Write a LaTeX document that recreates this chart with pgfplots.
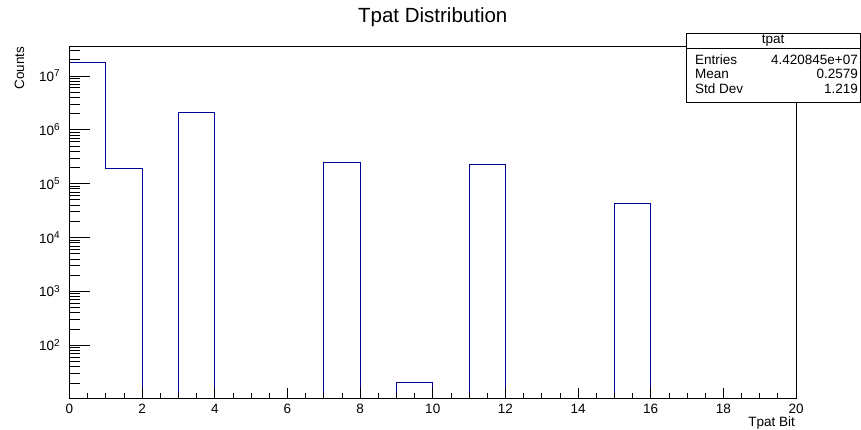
\documentclass[border=0pt]{standalone}
\usepackage{pgfplots}
\pgfplotsset{compat=1.18}
\usepackage{fontspec}
\setmainfont{Liberation Sans}

\definecolor{histblue}{RGB}{0,0,153}
\newcommand{\ep}[1]{10\raisebox{4.5pt}{\fontsize{10}{10}\selectfont #1}}

\begin{document}
\begin{tikzpicture}[x=1pt,y=1pt]
\begin{axis}[
    at={(69.5pt,32pt)}, anchor=south west,
    scale only axis, width=726.5pt, height=351.3pt,
    ymode=log, xmin=0, xmax=20, ymin=10.5, ymax=3.48e7,
    axis on top,
    axis line style={black, line width=0.8pt},
    tick align=inside, xtick pos=bottom, ytick pos=left,
    tick style={black, line width=0.7pt},
    xtick={0,2,...,20}, minor x tick num=3,
    xtick style={/pgfplots/major tick length=10pt, /pgfplots/minor tick length=5pt},
    ytick style={/pgfplots/major tick length=21pt, /pgfplots/minor tick length=11pt},
    ytick={1e2,1e3,1e4,1e5,1e6,1e7},
    yticklabels={\ep{2},\ep{3},\ep{4},\ep{5},\ep{6},\ep{7}},
    minor ytick={20,30,40,50,60,70,80,90,
        200,300,400,500,600,700,800,900,
        2000,3000,4000,5000,6000,7000,8000,9000,
        2e4,3e4,4e4,5e4,6e4,7e4,8e4,9e4,
        2e5,3e5,4e5,5e5,6e5,7e5,8e5,9e5,
        2e6,3e6,4e6,5e6,6e6,7e6,8e6,9e6,
        2e7,3e7},
    /pgf/number format/assume math mode=true,
    xticklabel style={font=\fontsize{13.5}{14}\selectfont, anchor=base, inner sep=0pt, yshift=-15.3pt},
    yticklabel style={font=\fontsize{13.5}{14}\selectfont, anchor=base east, inner sep=0pt, xshift=-9.5pt, yshift=-5.5pt},
    title={Tpat Distribution},
    title style={font=\fontsize{20.5}{24}\selectfont, at={(0.5,1)}, anchor=base, yshift=18pt, inner sep=0pt},
]
\addplot[const plot mark left, histblue, line width=1pt] coordinates {
    (0,1.79e7) (1,1.93e5) (2,1) (3,2.09e6) (4,1) (7,2.44e5) (8,1)
    (9,20.5) (10,1) (11,2.24e5) (12,1) (15,4.2e4) (16,1) (20,1)
};
\end{axis}
% axis titles, ROOT style: aligned to the axis ends
\node[rotate=90, anchor=base east, inner sep=0pt, font=\fontsize{13.5}{14}\selectfont] at (24pt,383.3pt) {Counts};
\node[anchor=base east, inner sep=0pt, font=\fontsize{13.5}{14}\selectfont] at (795pt,3pt) {Tpat Bit};
% statistics box
\draw[fill=white, line width=0.7pt] (686pt,327.7pt) rectangle (860.3pt,396.7pt);
\draw[line width=0.7pt] (686pt,381.7pt) -- (860.3pt,381.7pt);
\begin{scope}[every node/.style={inner sep=0pt, font=\fontsize{13.5}{14}\selectfont}]
\node[anchor=base] at (773pt,386.5pt) {tpat};
\node[anchor=base west] at (695pt,365.7pt) {Entries};
\node[anchor=base east] at (858pt,365.7pt) {4.420845e+07};
\node[anchor=base west] at (695pt,351.7pt) {Mean};
\node[anchor=base east] at (858pt,351.7pt) {0.2579};
\node[anchor=base west] at (695pt,336.7pt) {Std Dev};
\node[anchor=base east] at (858pt,336.7pt) {1.219};
\end{scope}
\pgfresetboundingbox
\path (0,0) rectangle (861pt,430pt);
\end{tikzpicture}
\end{document}
